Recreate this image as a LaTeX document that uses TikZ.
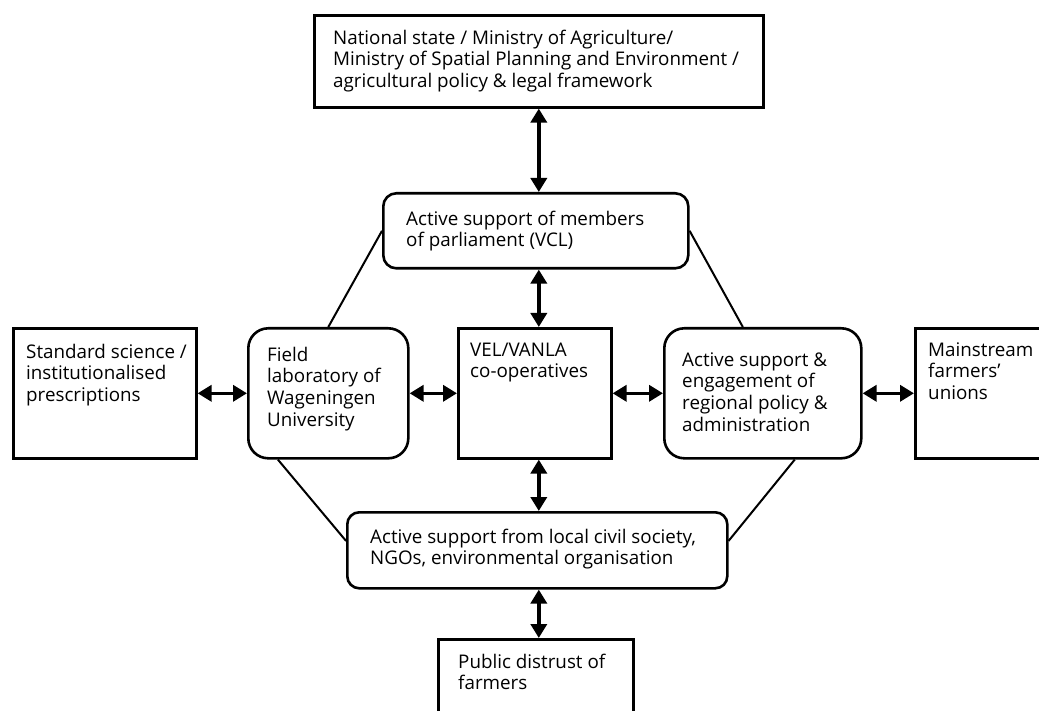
\documentclass[tikz,border=0pt]{standalone}
\usepackage{fontspec}
\setmainfont{Open Sans}
\usetikzlibrary{arrows.meta,calc}
\begin{document}
\begin{tikzpicture}[x=1pt,y=-1pt,
  sq/.style={draw, line width=2.6pt, inner sep=0pt, anchor=north west},
  rd/.style={sq, rounded corners=#1},
  rd/.default=18pt,
  txt/.style={inner sep=0pt, anchor=north west, align=left,
    font=\fontsize{18.8}{21.6}\selectfont},
  dbl/.style={line width=3.6pt,
    {Triangle[width=16pt,length=14pt]}-{Triangle[width=16pt,length=14pt]}},
  ln/.style={line width=2pt}]
\useasboundingbox (0,0) rectangle (1039,711);
\clip (0,0) rectangle (1039,711);
% boxes
\node[sq, minimum width=449, minimum height=92] (top) at (313,14) {};
\node[rd=13pt, minimum width=305, minimum height=75] (parl) at (382,192) {};
\node[sq, minimum width=183, minimum height=130] (left) at (12,327) {};
\node[rd=20pt, minimum width=160, minimum height=130] (field) at (247,327) {};
\node[sq, minimum width=153, minimum height=130] (vel) at (457,327) {};
\node[rd=20pt, minimum width=197, minimum height=130] (reg) at (663,327) {};
\node[sq, minimum width=170, minimum height=130] (main) at (914,327) {};
\node[rd=12pt, minimum width=380, minimum height=76] (civil) at (346,511) {};
\node[sq, minimum width=195, minimum height=110] (pub) at (437,638) {};
% texts
\node[txt] (topT) at ([shift={(20,15)}]top.north west)
  {\strut National state / Ministry of Agriculture/\\Ministry of Spatial Planning and Environment /\\agricultural policy \& legal framework};
\node[txt] (parlT) at ([shift={(24,18)}]parl.north west)
  {\strut Active support of members\\of parliament (VCL)};
\node[txt] (leftT) at ([shift={(14,16)}]left.north west)
  {\strut Standard science /\\institutionalised\\prescriptions};
\node[txt] (fieldT) at ([shift={(20,19)}]field.north west)
  {\strut Field\\laboratory of\\Wageningen\\University};
\node[txt] (velT) at ([shift={(13,14)}]vel.north west)
  {\strut VEL/VANLA\\co-operatives};
\node[txt] (regT) at ([shift={(19,24)}]reg.north west)
  {\strut Active support \&\\engagement of\\regional policy \&\\administration};
\node[txt] (mainT) at ([shift={(14,14)}]main.north west)
  {\strut Mainstream\\farmers’\\unions};
\node[txt] (civilT) at ([shift={(24,17)}]civil.north west)
  {\strut Active support from local civil society,\\NGOs, environmental organisation};
\node[txt] (pubT) at ([shift={(21,15)}]pub.north west)
  {\strut Public distrust of\\farmers};
% vertical arrows
\draw[dbl] (top.south) -- (parl.north -| top.south);
\draw[dbl] (parl.south -| top.south) -- (vel.north -| top.south);
\draw[dbl] (vel.south -| top.south) -- (civil.north -| top.south);
\draw[dbl] (civil.south -| top.south) -- (pub.north -| top.south);
% horizontal arrows
\draw[dbl] (left.east) -- (field.west);
\draw[dbl] (field.east) -- (vel.west);
\draw[dbl] (vel.east) -- (reg.west);
\draw[dbl] (reg.east) -- (main.west);
% diagonals
\draw[ln] (parl.west) -- (field.north);
\draw[ln] (parl.east) -- ($(reg.north west)!0.4!(reg.north east)$);
\draw[ln] ($(field.south west)!0.19!(field.south east)$) -- ($(civil.north west)!0.38!(civil.south west)$);
\draw[ln] ($(reg.south west)!0.66!(reg.south east)$) -- ($(civil.north east)!0.38!(civil.south east)$);
\end{tikzpicture}
\end{document}
